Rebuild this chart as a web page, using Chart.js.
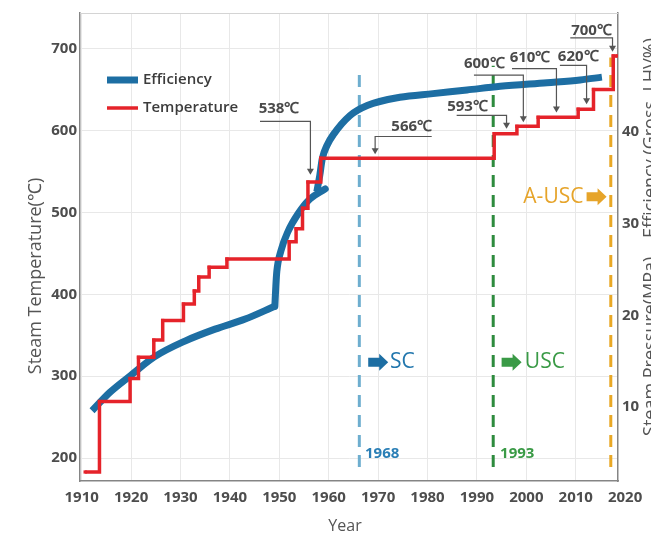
<!DOCTYPE html>
<html>
<head>
<meta charset="utf-8">
<script src="https://cdn.jsdelivr.net/npm/chart.js@4"></script>
<style>
  html, body { margin: 0; padding: 0; background: #fff; }
  #wrap { width: 651px; height: 538px; }
</style>
</head>
<body>
<div id="wrap"><canvas id="chart"></canvas></div>
<script>
// Steam temperature steps: year each step starts, temperature (℃)
const tempYears = [1910.7, 1913.6, 1919.8, 1921.5, 1924.6, 1926.4, 1930.6, 1932.8, 1933.7, 1935.8, 1939.4,
  1952.0, 1953.4, 1954.7, 1955.8, 1958.4, 1993.5, 1998.1, 2002.4, 2010.5, 2013.6, 2017.6, 2018.4];
const tempValues = [183, 269, 297, 323, 344, 368, 388, 404, 421, 433, 443,
  464, 480, 505, 537, 566, 596, 605, 616, 626, 650, 691, 691];

// Efficiency (Gross, LHV%) curve, drawn in pieces
const effYearsEarly = [1912.1, 1915.7, 1919.8, 1924.8, 1930.9, 1937.0, 1943.1, 1949.1];
const effEarly = [9.6, 11.6, 13.4, 15.5, 17.2, 18.5, 19.6, 21.0];
const effYearsJump = [1949.1, 1949.3, 1949.5, 1950.3, 1951.8, 1953.8, 1956.2, 1959.3];
const effJump = [21.0, 23.2, 24.8, 27.0, 29.2, 31.1, 32.7, 33.8];
const effYearsLate = [1957.6, 1958.2, 1958.7, 1959.7, 1960.9, 1964.3, 1967.8, 1974.4, 1981.1, 1988.0,
  1994.7, 2004.2, 2010.9, 2015.3];
const effLate = [33.5, 35.3, 37.1, 38.6, 39.7, 41.8, 42.9, 43.8, 44.2, 44.6, 45.0, 45.4, 45.7, 46.0];

// Technology milestones (dashed lines), year and temperature span
const eraYears = [1966.2, 1993.3, 2017.1];
const eraTop = [675, 679, 689];
const eraBottom = 189;
const eraColors = ['#6eaecf', '#2e8b3e', '#e9a825'];

// Axis ticks
const yearTicks = [1910, 1920, 1930, 1940, 1950, 1960, 1970, 1980, 1990, 2000, 2010, 2020];
const tempTicks = [200, 300, 400, 500, 600, 700];
const effTicks = [10, 20, 30, 40];

// Temperature call-outs: label, text position, leader path (year, ℃)
const callouts = [
  { text: '538℃', at: [1949.95, 627], path: [[1946.1, 611], [1956.3, 611], [1956.3, 546]] },
  { text: '566℃', at: [1976.8, 604], path: [[1980.85, 592.6], [1969.4, 592.6], [1969.4, 571]] },
  { text: '593℃', at: [1988.1, 629], path: [[1985.9, 618.4], [1996.0, 618.4], [1996.0, 602]] },
  { text: '600℃', at: [1991.5, 681.5], path: [[1989.4, 667.6], [1999.4, 667.6], [1999.4, 610]] },
  { text: '610℃', at: [2000.75, 688.2], path: [[1997.1, 675.4], [2006.1, 675.4], [2006.1, 622]] },
  { text: '620℃', at: [2010.5, 690], path: [[2006.8, 679.4], [2012.2, 679.4], [2012.2, 632]] },
  { text: '700℃', at: [2013.2, 722], path: [[2008.9, 713], [2017.45, 713], [2017.45, 696]] }
];

const RED = '#e5232a';
const BLUE = '#1d6ea3';
const TICK_FONT = { family: '"Open Sans", sans-serif', size: 15, weight: 'bold' };

const drawArrowBox = (ctx, x, y, color) => {
  // small block arrow, 20 x 17
  ctx.fillStyle = color;
  ctx.beginPath();
  ctx.moveTo(x, y - 4.5);
  ctx.lineTo(x + 11, y - 4.5);
  ctx.lineTo(x + 11, y - 8.5);
  ctx.lineTo(x + 20, y);
  ctx.lineTo(x + 11, y + 8.5);
  ctx.lineTo(x + 11, y + 4.5);
  ctx.lineTo(x, y + 4.5);
  ctx.closePath();
  ctx.fill();
};

const decorations = {
  id: 'decorations',
  afterDatasetsDraw(chart) {
    const { ctx, chartArea, scales } = chart;
    const px = v => scales.x.getPixelForValue(v);
    const py = v => scales.y.getPixelForValue(v);
    ctx.save();

    // top frame line
    ctx.strokeStyle = '#d4d4d4';
    ctx.lineWidth = 1;
    ctx.beginPath();
    ctx.moveTo(chartArea.left, chartArea.top + 0.5);
    ctx.lineTo(chartArea.right, chartArea.top + 0.5);
    ctx.stroke();

    // call-outs
    callouts.forEach(c => {
      ctx.strokeStyle = '#555';
      ctx.fillStyle = '#555';
      ctx.lineWidth = 1.2;
      ctx.beginPath();
      c.path.forEach((p, i) => {
        const X = px(p[0]), Y = py(p[1]);
        if (i === 0) ctx.moveTo(X, Y); else ctx.lineTo(X, Y - (i === c.path.length - 1 ? 5 : 0));
      });
      ctx.stroke();
      const tip = c.path[c.path.length - 1];
      const tx = px(tip[0]), ty = py(tip[1]);
      ctx.beginPath();
      ctx.moveTo(tx - 3.5, ty - 6);
      ctx.lineTo(tx + 3.5, ty - 6);
      ctx.lineTo(tx, ty);
      ctx.closePath();
      ctx.fill();
      ctx.fillStyle = '#4a4a4a';
      ctx.font = 'bold 15px "Open Sans", sans-serif';
      ctx.textAlign = 'center';
      ctx.textBaseline = 'middle';
      ctx.fillText(c.text, px(c.at[0]), py(c.at[1]));
    });

    // era labels
    ctx.textAlign = 'left';
    ctx.textBaseline = 'middle';
    ctx.font = 'bold 15px "Open Sans", sans-serif';
    ctx.fillStyle = '#2b7fb6';
    ctx.fillText('1968', px(1967.35), py(205.6));
    ctx.fillStyle = '#3a9a46';
    ctx.fillText('1993', px(1994.7), py(205.6));

    ctx.font = '21px "Open Sans", sans-serif';
    drawArrowBox(ctx, px(1968.0), py(317), BLUE);
    ctx.fillStyle = '#2176ad';
    ctx.fillText('SC', px(1972.4), py(317));
    drawArrowBox(ctx, px(1995.0), py(317), '#3a9a46');
    ctx.fillStyle = '#3a9a46';
    ctx.fillText('USC', px(1999.7), py(317));
    ctx.fillStyle = '#e6a42a';
    ctx.fillText('A-USC', px(1999.4), py(519));
    drawArrowBox(ctx, px(2012.2), py(519), '#e6a42a');

    // legend
    const lx = chartArea.left + 27;
    ctx.lineCap = 'butt';
    ctx.strokeStyle = BLUE;
    ctx.lineWidth = 7;
    ctx.beginPath();
    ctx.moveTo(lx, chartArea.top + 67);
    ctx.lineTo(lx + 31, chartArea.top + 67);
    ctx.stroke();
    ctx.strokeStyle = RED;
    ctx.lineWidth = 3.5;
    ctx.beginPath();
    ctx.moveTo(lx, chartArea.top + 95);
    ctx.lineTo(lx + 31, chartArea.top + 95);
    ctx.stroke();
    ctx.fillStyle = '#3c3c3c';
    ctx.font = '600 15px "Open Sans", sans-serif';
    ctx.fillText('Efficiency', lx + 36, chartArea.top + 67);
    ctx.fillText('Temperature', lx + 36, chartArea.top + 95);

    ctx.restore();
  },
  afterDraw(chart) {
    const { ctx } = chart;
    ctx.save();
    ctx.fillStyle = '#555';
    ctx.font = '16px "Open Sans", sans-serif';
    ctx.textBaseline = 'middle';
    ctx.textAlign = 'center';
    ctx.fillText('Year', 345, 526);
    ctx.font = '18px "Open Sans", sans-serif';
    ctx.translate(36, 276);
    ctx.rotate(-Math.PI / 2);
    ctx.fillText('Steam Temperature(℃)', 0, 0);
    ctx.restore();
    ctx.save();
    ctx.fillStyle = '#555';
    ctx.font = '18px "Open Sans", sans-serif';
    ctx.textBaseline = 'middle';
    ctx.textAlign = 'right';
    ctx.translate(651, 38);
    ctx.rotate(-Math.PI / 2);
    ctx.fillText('Steam Pressure(MPa)    Efficiency (Gross, LHV%)', 0, 0);
    ctx.restore();
  }
};

const toPoints = (xs, ys) => xs.map((x, i) => ({ x: x, y: ys[i] }));

const effLine = (label, xs, ys, cap) => ({
  label: label,
  data: toPoints(xs, ys),
  yAxisID: 'y2',
  borderColor: BLUE,
  borderWidth: 7,
  borderCapStyle: cap,
  borderJoinStyle: 'round',
  cubicInterpolationMode: 'monotone',
  pointRadius: 0,
  order: 1
});

const datasets = [
  {
    label: 'Temperature',
    data: toPoints(tempYears, tempValues),
    yAxisID: 'y',
    stepped: 'before',
    borderColor: RED,
    backgroundColor: RED,
    borderWidth: 3.5,
    pointStyle: 'rect',
    pointRadius: 2.3,
    pointBorderWidth: 0,
    order: 0
  },
  effLine('Efficiency', effYearsEarly, effEarly, 'butt'),
  effLine('Efficiency (jump)', effYearsJump, effJump, 'round'),
  effLine('Efficiency (late)', effYearsLate, effLate, 'butt')
];
eraYears.forEach((yr, i) => {
  datasets.push({
    label: 'era' + i,
    data: [{ x: yr, y: eraBottom }, { x: yr, y: eraTop[i] }],
    yAxisID: 'y',
    borderColor: eraColors[i],
    borderWidth: 3,
    borderDash: [12, 8],
    pointRadius: 0,
    order: 2
  });
});

new Chart(document.getElementById('chart'), {
  type: 'line',
  data: { datasets: datasets },
  options: {
    responsive: true,
    maintainAspectRatio: false,
    animation: false,
    layout: { padding: { top: 10, left: 0, right: 0, bottom: 0 } },
    plugins: { legend: { display: false }, tooltip: { enabled: false } },
    scales: {
      x: {
        type: 'linear',
        min: 1909.66,
        max: 2018.56,
        afterBuildTicks: s => { s.ticks = yearTicks.map(v => ({ value: v })); },
        afterFit: s => { s.height = 57; },
        ticks: { autoSkip: false, maxRotation: 0, padding: 8, color: '#4d4d4d', font: TICK_FONT, callback: v => String(v) },
        grid: { drawTicks: false, color: c => (c.tick && c.tick.value > 2018 ? 'rgba(0,0,0,0)' : '#e8e8e8') },
        border: { color: '#858585', width: 1.5 }
      },
      y: {
        position: 'left',
        min: 172,
        max: 743.4,
        afterBuildTicks: s => { s.ticks = tempTicks.map(v => ({ value: v })); },
        afterFit: s => { s.width = 80; },
        ticks: { padding: 3, color: '#4d4d4d', font: TICK_FONT },
        grid: { drawTicks: false, color: '#e8e8e8' },
        border: { color: '#858585', width: 1.5 }
      },
      y2: {
        position: 'right',
        min: 1.93,
        max: 53.0,
        afterBuildTicks: s => { s.ticks = effTicks.map(v => ({ value: v })); },
        afterFit: s => { s.width = 33; },
        ticks: { padding: 4, color: '#4d4d4d', font: TICK_FONT },
        grid: { drawTicks: false, drawOnChartArea: false },
        border: { color: '#858585', width: 1.5 }
      }
    }
  },
  plugins: [decorations]
});
</script>
</body>
</html>
